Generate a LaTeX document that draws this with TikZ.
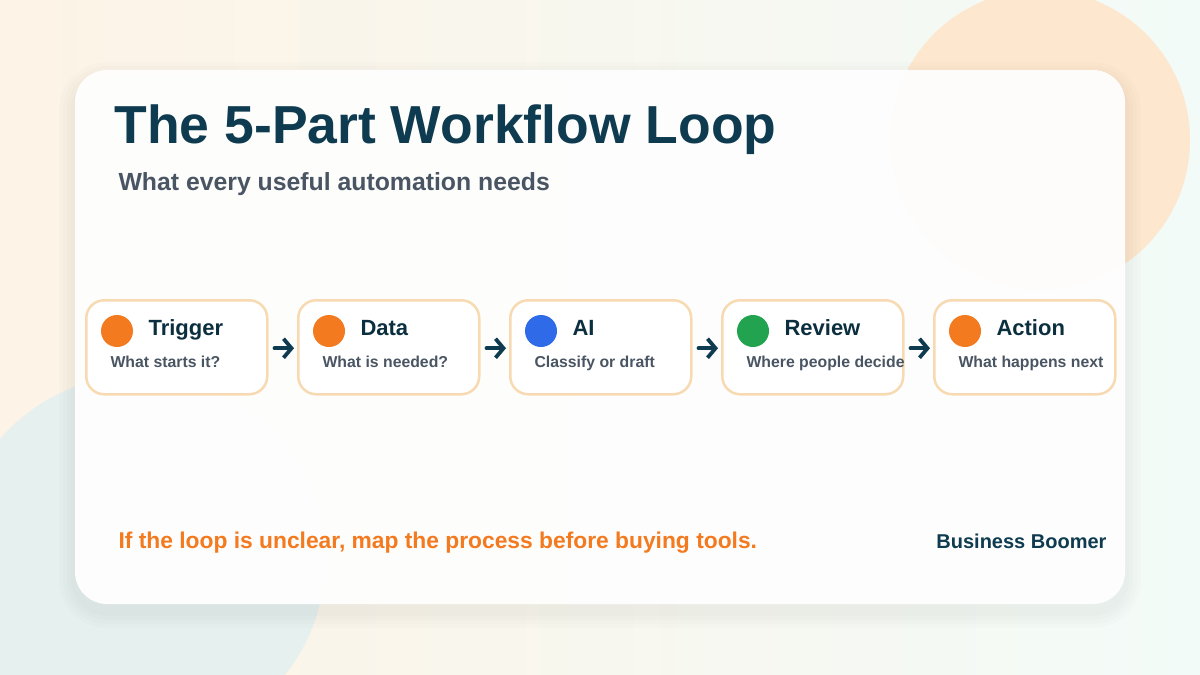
\documentclass[tikz,border=0pt]{standalone}
\usepackage{fontspec}
\setmainfont{Liberation Sans}
\usetikzlibrary{arrows.meta}
\definecolor{bgc}{HTML}{FDF3E6}
\definecolor{bgr}{HTML}{F3FBF8}
\definecolor{peach}{HTML}{FDE7CF}
\definecolor{teal}{HTML}{0E3B4F}
\definecolor{grayt}{HTML}{4A5563}
\definecolor{bord}{HTML}{F8DAB2}
\definecolor{dorange}{HTML}{F47A20}
\definecolor{dblue}{HTML}{2F6BE8}
\definecolor{dgreen}{HTML}{22A350}
\definecolor{bluec}{HTML}{E6F0EE}
\tikzset{
 stepbox/.style={draw=bord,line width=2.5pt,rounded corners=18pt,fill=white,minimum width=181pt,minimum height=94pt,inner sep=0pt},
 dot/.style={circle,minimum size=32pt,inner sep=0pt},
 ttl/.style={anchor=base west,font=\bfseries\fontsize{22}{26}\selectfont,text=teal!80!black},
 sub/.style={anchor=base west,font=\bfseries\fontsize{15.8}{19}\selectfont,text=grayt},
 conn/.style={draw=teal,line width=3.8pt,line cap=round,-{Straight Barb[length=8pt,width=19pt,line width=3.8pt]}}
}
\begin{document}
\begin{tikzpicture}[x=1pt,y=-1pt]
\useasboundingbox (0,0) rectangle (1200,675);
\shade[left color=bgc,right color=bgr] (0,0) rectangle (1200,675);
\fill[peach] (1040,140) circle (150);
\fill[bluec] (140,560) circle (185);
\foreach \r in {16,12,8,4}{
 \fill[black,opacity=0.012,rounded corners=32pt+\r pt] (75-\r,70-\r+8) rectangle (1125+\r,604+\r+8);
}
\fill[white,opacity=0.93,rounded corners=32pt] (75,70) rectangle (1125,604);
\node[anchor=base west,font=\bfseries\fontsize{53.5}{62}\selectfont,text=teal] (title) at (111,143) {The 5-Part Workflow Loop};
\node[anchor=base west,font=\bfseries\fontsize{24.8}{28}\selectfont,text=grayt] (subt) at (115,190) {What every useful automation needs};
\foreach \i/\x/\c/\t/\s in {1/85/dorange/Trigger/What starts it?,2/297/dorange/Data/What is needed?,3/509/dblue/AI/Classify or draft,4/721/dgreen/Review/Where people decide,5/933/dorange/Action/What happens next}{
 \node[stepbox,anchor=north west] (b\i) at (\x,299) {};
 \node[dot,fill=\c] (d\i) at (\x+32,331) {};
 \node[ttl] (t\i) at (\x+60,335) {\t};
 \node[sub] (s\i) at (\x+22,367) {\s};
}
\foreach \a/\b in {1/2,2/3,3/4,4/5}{
 \draw[conn] ([xshift=6pt,yshift=-1pt]b\a.east) -- ([xshift=-3pt,yshift=-1pt]b\b.west);
}
\node[anchor=base west,font=\bfseries\fontsize{22.8}{26}\selectfont,text=dorange] (foot) at (115,548) {If the loop is unclear, map the process before buying tools.};
\node[anchor=base east,font=\bfseries\fontsize{20}{24}\selectfont,text=teal] (brand) at (1110,548) {Business Boomer};
\end{tikzpicture}
\end{document}
